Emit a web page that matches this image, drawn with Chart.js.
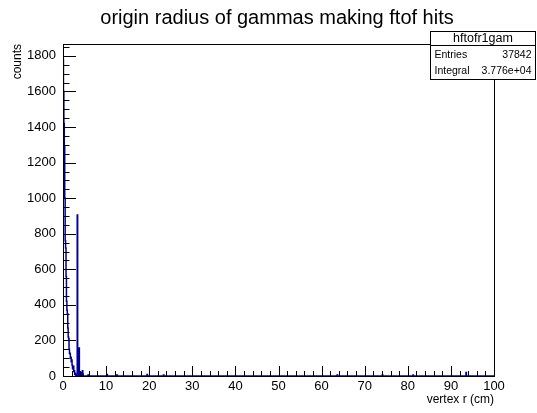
<!DOCTYPE html>
<html>
<head>
	<title>origin radius of gammas making ftof hits</title>
	<script src="https://cdn.jsdelivr.net/npm/chart.js"></script>
	<style>
		body { margin: 0; background: #fff; }
		#wrap { width: 537px; height: 413px; position: relative; }
	</style>
</head>
<body>
	<div id="wrap">
		<canvas id="myChart" width="537" height="413"></canvas>
	</div>
	<script>
	// histogram bins (low edge, cm) and contents
	var binLow = [0.0, 0.1, 0.2, 0.3, 0.4, 0.5, 0.6, 0.7, 0.8, 0.9,
		1.0, 1.1, 1.2, 1.3, 1.4, 1.5, 1.6, 1.7, 1.8, 1.9,
		2.0, 2.1, 2.2, 2.3, 2.4, 2.5, 2.6, 2.7, 2.8, 2.9,
		3.0, 3.1, 3.2, 3.3, 3.4, 3.5, 3.6, 3.7, 3.8, 3.9,
		4.2, 4.3, 4.5, 4.6, 4.7,
		5.8, 5.9, 10.2, 10.3, 12.5, 12.6, 19.5, 19.6, 23.3, 23.4,
		63.6, 63.7, 74.1, 74.2, 81.2, 81.3, 93.5, 93.6, 100];
	var counts = [1780, 1600, 1420, 1290, 1000, 760, 720, 560, 420, 370,
		350, 270, 220, 210, 150, 130, 125, 100, 105, 80,
		90, 60, 45, 40, 55, 25, 30, 10, 15, 5,
		0, 8, 0, 905, 0, 0, 0, 157, 0, 0,
		20, 0, 30, 10, 0,
		6, 0, 8, 0, 5, 0, 8, 0, 5, 0,
		6, 0, 5, 0, 6, 0, 20, 0, 0];

	var yMax = 1867;
	var titleText = 'origin radius of gammas making ftof hits';
	var statsName = 'hftofr1gam';
	var statsRows = [['Entries', '37842'], ['Integral', '3.776e+04']];

	var FONT = '"Liberation Sans", Arial, Helvetica, sans-serif';

	// ROOT style title, frame, inner ticks and stats box
	var rootStyle = {
		id: 'rootStyle',
		afterDraw: function (chart) {
			var c = chart.ctx, a = chart.chartArea;
			var xs = chart.scales.x, ys = chart.scales.y;
			c.save();
			c.fillStyle = '#000';
			c.textAlign = 'center';
			c.textBaseline = 'middle';
			c.font = '20px ' + FONT;
			c.fillText(titleText, 277, 18);

			c.strokeStyle = '#000';
			c.lineWidth = 1;
			c.strokeRect(Math.round(a.left) + 0.5, Math.round(a.top) + 0.5,
				Math.round(a.right - a.left), Math.round(a.bottom - a.top));
			c.beginPath();
			for (var v = 0; v <= 100; v += 2) {
				var px = Math.round(xs.getPixelForValue(v)) + 0.5;
				var len = (v % 10 === 0) ? 10 : 5;
				c.moveTo(px, a.bottom);
				c.lineTo(px, a.bottom - len);
			}
			for (var w = 0; w <= yMax; w += 50) {
				var py = Math.round(ys.getPixelForValue(w)) + 0.5;
				var l = (w % 200 === 0) ? 13 : 6.5;
				c.moveTo(a.left, py);
				c.lineTo(a.left + l, py);
			}
			c.stroke();

			// stats box
			var bx = 430.5, by = 31.5, bw = 105, bh = 48;
			c.fillStyle = '#fff';
			c.fillRect(bx, by, bw, bh);
			c.strokeRect(bx, by, bw, bh);
			c.beginPath();
			c.moveTo(bx, by + 14);
			c.lineTo(bx + bw, by + 14);
			c.stroke();
			c.fillStyle = '#000';
			c.textBaseline = 'middle';
			c.textAlign = 'center';
			c.font = '12.5px ' + FONT;
			c.fillText(statsName, bx + bw / 2, by + 7);
			c.font = '10.5px ' + FONT;
			for (var i = 0; i < statsRows.length; i++) {
				var ry = by + 23.5 + i * 16;
				c.textAlign = 'left';
				c.fillText(statsRows[i][0], bx + 4, ry);
				c.textAlign = 'right';
				c.fillText(statsRows[i][1], bx + bw - 4, ry);
			}
			c.restore();
		}
	};

	const ctx = document.getElementById('myChart');
	new Chart(ctx, {
		type: 'line',
		data: {
			datasets: [{
				label: statsName,
				data: binLow.map((r, i) => ({ x: r, y: counts[i] })),
				borderColor: '#000099',
				borderWidth: 1.5,
				pointRadius: 0,
				stepped: 'before',
				fill: false
			}]
		},
		options: {
			responsive: false,
			animation: false,
			layout: { padding: { left: 0, right: 43, top: 44, bottom: 0 } },
			plugins: {
				legend: { display: false },
				tooltip: { enabled: false },
				title: { display: false }
			},
			scales: {
				x: {
					type: 'linear',
					min: 0,
					max: 100,
					afterFit: function (s) { s.height = 37; },
					grid: { display: false, drawTicks: false },
					border: { display: false },
					ticks: {
						stepSize: 10,
						padding: 3,
						maxRotation: 0,
						color: '#000',
						font: { family: FONT, size: 13 },
						callback: function (v) { return String(v); }
					},
					title: {
						display: true,
						text: 'vertex r (cm)',
						align: 'end',
						color: '#000',
						font: { family: FONT, size: 12 },
						padding: { top: 0, bottom: 6 }
					}
				},
				y: {
					type: 'linear',
					min: 0,
					max: yMax,
					afterFit: function (s) { s.width = 63; },
					grid: { display: false, drawTicks: false },
					border: { display: false },
					ticks: {
						stepSize: 200,
						includeBounds: false,
						padding: 7,
						color: '#000',
						font: { family: FONT, size: 13 },
						callback: function (v) { return String(v); }
					},
					title: {
						display: true,
						text: 'counts',
						align: 'end',
						color: '#000',
						font: { family: FONT, size: 12 },
						padding: { top: 10, bottom: 0 }
					}
				}
			}
		},
		plugins: [rootStyle]
	});
	</script>
</body>
</html>
